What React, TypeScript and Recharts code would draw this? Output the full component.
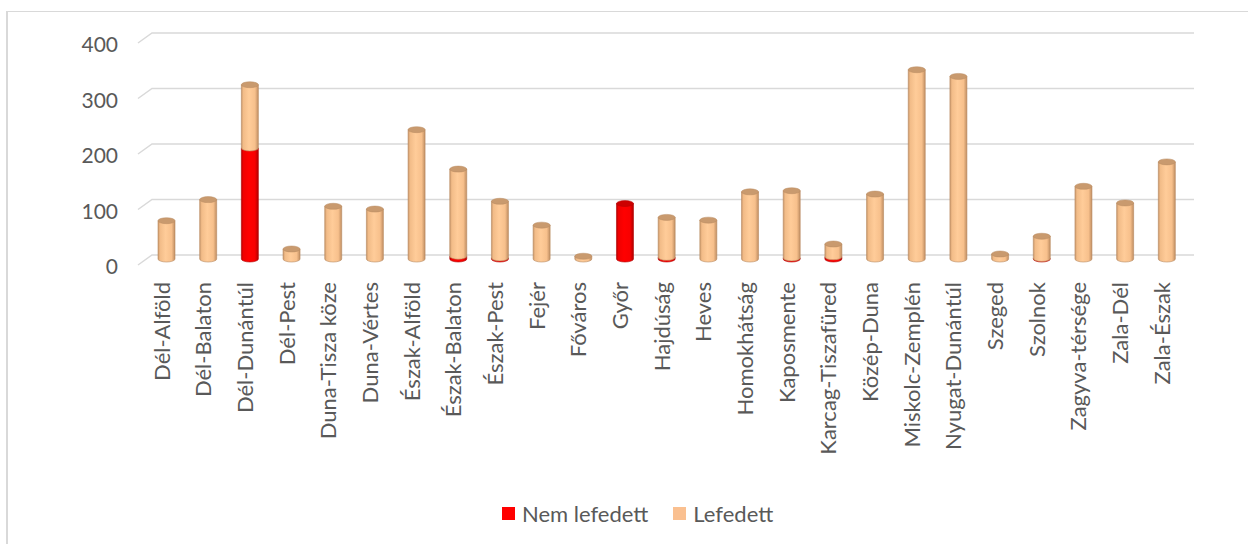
import { Bar, BarChart, CartesianGrid, XAxis, YAxis } from "recharts";

const regions = [
  "Dél-Alföld", "Dél-Balaton", "Dél-Dunántúl", "Dél-Pest", "Duna-Tisza köze",
  "Duna-Vértes", "Észak-Alföld", "Észak-Balaton", "Észak-Pest", "Fejér",
  "Főváros", "Győr", "Hajdúság", "Heves", "Homokhátság", "Kaposmente",
  "Karcag-Tiszafüred", "Közép-Duna", "Miskolc-Zemplén", "Nyugat-Dunántúl",
  "Szeged", "Szolnok", "Zagyva-térsége", "Zala-Dél", "Zala-Észak",
];
const nemLefedett = [0, 0, 200, 0, 0, 0, 0, 5, 2, 0, 0, 100, 3, 0, 0, 2, 4, 0, 0, 0, 0, 1, 0, 0, 0];
const lefedett = [69, 107, 114, 18, 95, 90, 233, 157, 102, 61, 5, 0, 72, 70, 121, 121, 23, 117, 341, 329, 9, 40, 131, 101, 175];
const yTicks = [0, 100, 200, 300, 400];

const data = regions.map((name, i) => ({
  name,
  nemLefedett: nemLefedett[i],
  lefedett: lefedett[i],
}));

const TEXT = "#595959";
const FONT = "Lato, 'Open Sans', sans-serif";

// 3D look: bars sit a bit in front of the back wall
const DX = -6;
const DY = 4;

function Cylinder(props: any) {
  const { x, y, width, height, payload, kind } = props;
  if (!height || height <= 0) return null;
  const cx = x + DX;
  const top = y + DY;
  const bottom = top + height;
  const rx = width / 2;
  const ry = 3;
  const isTop = kind === "orange" ? true : payload.lefedett === 0;
  const grad = kind === "orange" ? "url(#cylOrange)" : "url(#cylRed)";
  const edge = kind === "orange" ? "#b88a60" : "#b00000";
  const cap = kind === "orange" ? "#c99a6e" : "#cc0000";
  const d = `M${cx},${top} L${cx},${bottom} A${rx},${ry} 0 0 0 ${cx + width},${bottom} L${cx + width},${top} Z`;
  return (
    <g>
      <path d={d} fill={grad} stroke={edge} strokeWidth={0.6} />
      {isTop && <ellipse cx={cx + rx} cy={top} rx={rx} ry={ry} fill={cap} stroke={edge} strokeWidth={0.5} />}
    </g>
  );
}

function YTick(props: any) {
  const { x, y, payload } = props;
  return (
    <text x={x - 26} y={y + 12} dy="0.35em" textAnchor="end" fill={TEXT} fontSize={21} fontFamily={FONT}>
      {payload.value}
    </text>
  );
}

function XTick(props: any) {
  const { x, y, payload } = props;
  const tx = x - 11;
  const ty = y + 19;
  return (
    <text
      x={tx}
      y={ty}
      dy="0.35em"
      textAnchor="end"
      transform={`rotate(-90, ${tx}, ${ty})`}
      fill={TEXT}
      fontSize={22}
      fontFamily={FONT}
    >
      {payload.value}
    </text>
  );
}

function gridLine(p: any) {
  const { x1, x2, y1, index } = p;
  return (
    <path
      key={`h-${index}`}
      d={`M${x1 - 14},${y1 + 10} L${x1},${y1} L${x2},${y1}`}
      fill="none"
      stroke="#d9d9d9"
      strokeWidth={1.5}
    />
  );
}

const legendItems = [
  { label: "Nem lefedett", color: "#ff0000" },
  { label: "Lefedett", color: "#fac090" },
];

export default function App() {
  return (
    <div style={{ position: "absolute", left: 0, top: 0, width: 1248, height: 544, background: "#fff", overflow: "hidden" }}>
      <div
        style={{
          position: "absolute",
          left: 6,
          top: 11,
          width: 1300,
          height: 600,
          borderLeft: "2px solid #d9d9d9",
          borderTop: "1px solid #d9d9d9",
        }}
      />
      <BarChart
        width={1248}
        height={544}
        data={data}
        barSize={17}
        margin={{ top: 33, right: 54, left: 92, bottom: 89 }}
        style={{ position: "absolute", left: 0, top: 0 }}
      >
        <defs>
          <linearGradient id="cylOrange" x1="0" y1="0" x2="1" y2="0">
            <stop offset="0%" stopColor="#c9976a" />
            <stop offset="12%" stopColor="#f2bc88" />
            <stop offset="45%" stopColor="#ffcc99" />
            <stop offset="80%" stopColor="#f7c08c" />
            <stop offset="100%" stopColor="#c08e62" />
          </linearGradient>
          <linearGradient id="cylRed" x1="0" y1="0" x2="1" y2="0">
            <stop offset="0%" stopColor="#b80000" />
            <stop offset="12%" stopColor="#f00000" />
            <stop offset="45%" stopColor="#ff0000" />
            <stop offset="80%" stopColor="#f80000" />
            <stop offset="100%" stopColor="#b00000" />
          </linearGradient>
        </defs>
        <CartesianGrid vertical={false} horizontal={gridLine} />
        <XAxis
          dataKey="name"
          interval={0}
          height={200}
          axisLine={false}
          tickLine={false}
          tick={<XTick />}
        />
        <YAxis
          domain={[0, 400]}
          ticks={yTicks}
          width={60}
          axisLine={false}
          tickLine={false}
          tick={<YTick />}
        />
        <Bar dataKey="nemLefedett" stackId="a" isAnimationActive={false} shape={(p: any) => <Cylinder {...p} kind="red" />} />
        <Bar dataKey="lefedett" stackId="a" isAnimationActive={false} shape={(p: any) => <Cylinder {...p} kind="orange" />} />
      </BarChart>
      <div
        style={{
          position: "absolute",
          left: 502,
          top: 500,
          display: "flex",
          alignItems: "center",
          fontFamily: FONT,
          fontSize: 22,
          color: TEXT,
        }}
      >
        {legendItems.map((it) => (
          <div key={it.label} style={{ display: "flex", alignItems: "center", marginRight: 25 }}>
            <span style={{ width: 13, height: 13, background: it.color, marginRight: 7, display: "inline-block" }} />
            <span>{it.label}</span>
          </div>
        ))}
      </div>
    </div>
  );
}
